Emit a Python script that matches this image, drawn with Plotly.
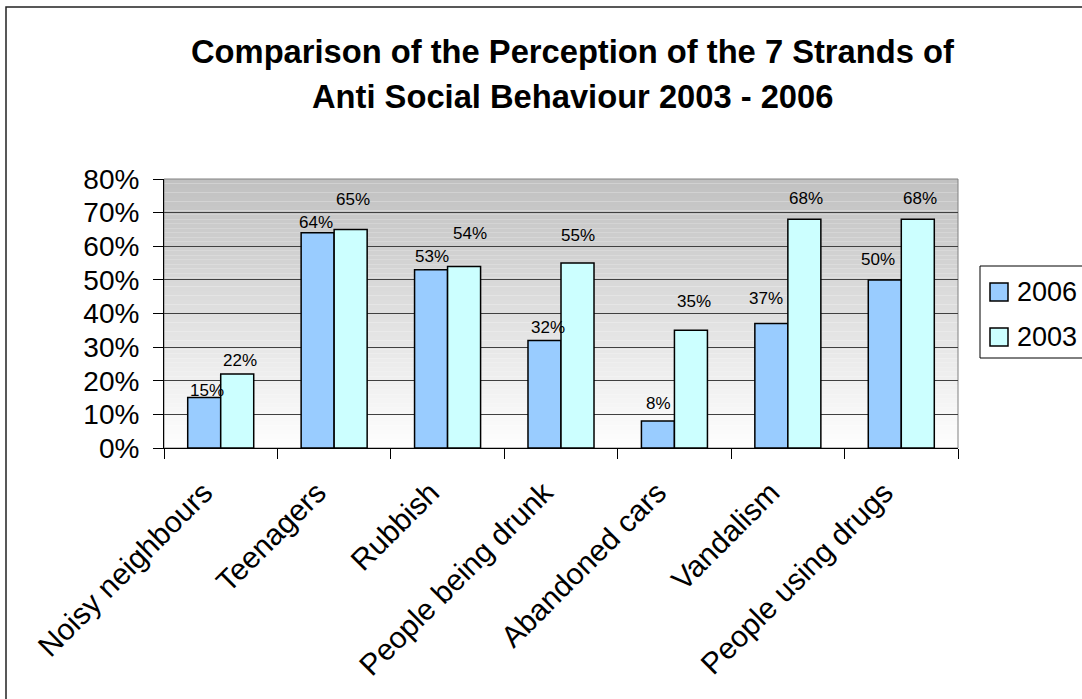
import plotly.graph_objects as go

# Survey results: share of respondents who see each strand as a problem
categories = ["Noisy neighbours", "Teenagers", "Rubbish", "People being drunk",
              "Abandoned cars", "Vandalism", "People using drugs"]
pct_2006 = [15, 64, 53, 32, 8, 37, 50]
pct_2003 = [22, 65, 54, 55, 35, 68, 68]
y_ticks = [0, 10, 20, 30, 40, 50, 60, 70, 80]

# Label nudges in pixels (dx, dy above the bar top)
lab_dx_2006 = [3, -2, 1, 4, 1, -5, -7]
lab_dy_2006 = [7, 10, 13, 13, 18, 25, 20]
lab_dx_2003 = [3, 2, 6, 0, 3, 2, 2]
lab_dy_2003 = [14, 30, 33, 28, 29, 21, 21]

W, H = 1082, 699
L, R, T, B = 164, 124, 179, 251
PW, PH = W - L - R, H - T - B

def px(x):
    return (x - L) / PW

def py(y):
    return (H - B - y) / PH

FONT = "Liberation Sans, Arial, sans-serif"
C06, C03 = "#99CCFF", "#CCFFFF"

fig = go.Figure()
fig.add_trace(go.Bar(name="2006", x=categories, y=[v / 100 for v in pct_2006],
                     marker=dict(color=C06, line=dict(color="black", width=1.5))))
fig.add_trace(go.Bar(name="2003", x=categories, y=[v / 100 for v in pct_2003],
                     marker=dict(color=C03, line=dict(color="black", width=1.5))))

bar_half = PW / len(categories) * (1 - 0.418) / 4
annotations = []
for i, c in enumerate(categories):
    annotations.append(dict(x=c, y=pct_2006[i] / 100, text=f"{pct_2006[i]}%",
                            showarrow=False, xshift=-bar_half + lab_dx_2006[i],
                            yshift=lab_dy_2006[i], yanchor="middle",
                            font=dict(family=FONT, size=17, color="black")))
    annotations.append(dict(x=c, y=pct_2003[i] / 100, text=f"{pct_2003[i]}%",
                            showarrow=False, xshift=bar_half + lab_dx_2003[i],
                            yshift=lab_dy_2003[i], yanchor="middle",
                            font=dict(family=FONT, size=17, color="black")))

# Title, one annotation per line
for line, cy in [("Comparison of the Perception of the 7 Strands of", 51),
                 ("Anti Social Behaviour 2003 - 2006", 96)]:
    annotations.append(dict(xref="paper", yref="paper", x=px(572), y=py(cy),
                            xanchor="center", yanchor="middle", showarrow=False,
                            text=f"<b>{line}</b>",
                            font=dict(family=FONT, size=32.7, color="black")))

# Plot-area shading, chart frame and a hand-drawn legend that runs off the right edge
shapes = []
n = 60
top_rgb = (192, 192, 192)
for k in range(n):
    f = (k + 0.5) / n
    col = tuple(round(255 + (t - 255) * f) for t in top_rgb)
    shapes.append(dict(type="rect", xref="paper", yref="y", layer="below",
                       x0=0, x1=1, y0=0.8 * k / n, y1=0.8 * (k + 1) / n,
                       line=dict(width=0), fillcolor=f"rgb{col}"))
shapes.append(dict(type="rect", xref="paper", yref="paper", x0=0, x1=1, y0=0, y1=1,
                   line=dict(color="#808080", width=1), layer="below"))
shapes.append(dict(type="rect", xref="paper", yref="paper",
                   x0=px(6), x1=px(1110), y0=py(7), y1=py(730),
                   line=dict(color="#222222", width=1.5)))
shapes.append(dict(type="rect", xref="paper", yref="paper",
                   x0=px(980), x1=px(1110), y0=py(266), y1=py(358),
                   line=dict(color="black", width=1), fillcolor="white"))
for name, col, cy in [("2006", C06, 292), ("2003", C03, 337)]:
    shapes.append(dict(type="rect", xref="paper", yref="paper",
                       x0=px(990), x1=px(1008), y0=py(cy - 9), y1=py(cy + 9),
                       line=dict(color="black", width=1.5), fillcolor=col))
    annotations.append(dict(xref="paper", yref="paper", x=px(1015), y=py(cy),
                            xanchor="left", yanchor="middle", showarrow=False,
                            text=name, font=dict(family=FONT, size=27, color="black")))

fig.update_layout(
    width=W, height=H,
    margin=dict(l=L, r=R, t=T, b=B, autoexpand=False),
    paper_bgcolor="white", plot_bgcolor="white",
    showlegend=False,
    barmode="group", bargap=0.418, bargroupgap=0,
    xaxis=dict(type="category", tickangle=-45, tickson="boundaries",
               ticks="outside", ticklen=10, tickcolor="black",
               showline=True, linecolor="black", linewidth=1, showgrid=False,
               ticklabelstandoff=14, ticklabelshift=-17,
               tickfont=dict(family=FONT, size=30, color="black")),
    yaxis=dict(range=[0, 0.8], tickvals=[v / 100 for v in y_ticks],
               ticktext=[f"{v}%" for v in y_ticks],
               ticks="outside", ticklen=10, tickcolor="black",
               showline=True, linecolor="black", linewidth=1,
               showgrid=True, gridcolor="#404040", gridwidth=1, zeroline=False,
               ticklabelstandoff=8,
               tickfont=dict(family=FONT, size=28, color="black")),
    shapes=shapes, annotations=annotations,
)

fig.write_html("out.html")
